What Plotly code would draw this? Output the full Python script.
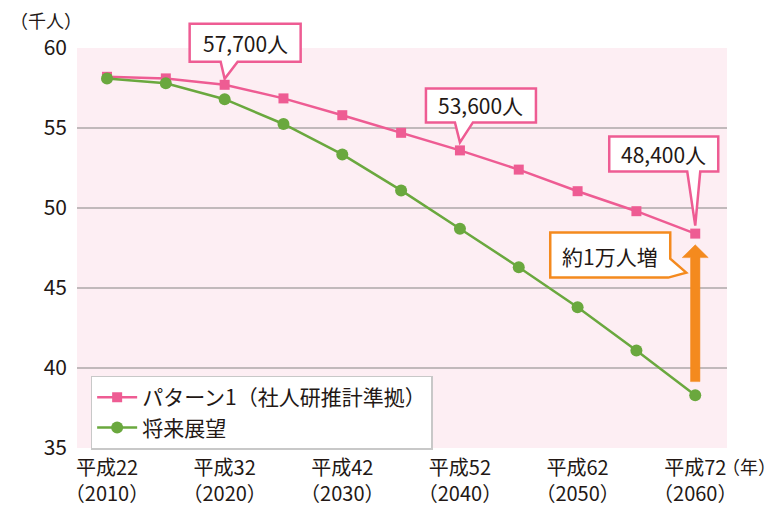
import plotly.graph_objects as go

years = [2010, 2015, 2020, 2025, 2030, 2035, 2040, 2045, 2050, 2055, 2060]
pattern1 = [58.2, 58.1, 57.7, 56.85, 55.8, 54.7, 53.6, 52.4, 51.05, 49.8, 48.4]
outlook = [58.1, 57.8, 56.8, 55.25, 53.35, 51.1, 48.7, 46.3, 43.8, 41.1, 38.3]

tick_years = [2010, 2020, 2030, 2040, 2050, 2060]
tick_labels = ["平成22<br>（2010）", "平成32<br>（2020）", "平成42<br>（2030）",
               "平成52<br>（2040）", "平成62<br>（2050）", "平成72<br>（2060）"]
y_ticks = [35, 40, 45, 50, 55, 60]
grid_values = [40, 45, 50, 55]
Y_MIN, Y_MAX = 35, 60

series_names = ["パターン1（社人研推計準拠）", "将来展望"]
callout_years = [2020, 2040, 2060]
callout_texts = ["57,700人", "53,600人", "48,400人"]
increase_text = "約1万人増"

FONT = "Noto Sans CJK JP, Noto Sans, sans-serif"
PINK = "#EE5C93"
GREEN = "#6AA83E"
ORANGE = "#F48A1E"
TEXT = "#231815"

fig = go.Figure()
fig.add_trace(go.Scatter(
    x=years, y=pattern1, mode="lines+markers", name=series_names[0],
    line=dict(color=PINK, width=2.5),
    marker=dict(symbol="square", size=10, color=PINK),
))
fig.add_trace(go.Scatter(
    x=years, y=outlook, mode="lines+markers", name=series_names[1],
    line=dict(color=GREEN, width=2.5),
    marker=dict(symbol="circle", size=12, color=GREEN),
))

shapes = []
for g in grid_values:
    shapes.append(dict(type="line", xref="paper", yref="y", x0=0, x1=1, y0=g, y1=g,
                       line=dict(color="#ACA7A9", width=1.5), layer="below"))


def frac(v):
    return (v - Y_MIN) / (Y_MAX - Y_MIN)


# callout bubbles (pixel geometry relative to the data point)
bubble_geo = [
    dict(bx0=-35, bx1=76, by0=23, by1=61, t0=-4, t1=13, tip=6),
    dict(bx0=-34, bx1=76, by0=28, by1=62, t0=-5, t1=13, tip=8),
    dict(bx0=-86, bx1=23, by0=62, by1=97, t0=-8, t1=5, tip=8),
]
annotations = []
for yr, txt, g in zip(callout_years, callout_texts, bubble_geo):
    val = pattern1[years.index(yr)]
    path = (f"M {g['bx0']},{g['by0']} L {g['t0']},{g['by0']} L 0,{g['tip']} "
            f"L {g['t1']},{g['by0']} L {g['bx1']},{g['by0']} L {g['bx1']},{g['by1']} "
            f"L {g['bx0']},{g['by1']} Z")
    shapes.append(dict(type="path", xref="x", yref="paper", xsizemode="pixel", ysizemode="pixel",
                       xanchor=yr, yanchor=frac(val), path=path, fillcolor="white",
                       line=dict(color=PINK, width=2.5), layer="above"))
    annotations.append(dict(x=yr, y=val, xref="x", yref="y", text=txt, showarrow=False,
                            xshift=(g['bx0'] + g['bx1']) / 2, yshift=(g['by0'] + g['by1']) / 2,
                            font=dict(family=FONT, size=21, color=TEXT)))

# increase arrow
last_p = pattern1[-1]
last_o = outlook[-1]
a_bot = last_o + 0.85
a_tip = last_p - 0.7
a_head = a_tip - 0.8
shapes.append(dict(type="path", xref="x", yref="y", xsizemode="pixel", ysizemode="scaled",
                   xanchor=years[-1],
                   path=(f"M -4.7,{a_bot} L 4.7,{a_bot} L 4.7,{a_head} L 13,{a_head} L 0,{a_tip} "
                         f"L -13,{a_head} L -4.7,{a_head} Z"),
                   fillcolor=ORANGE, line=dict(color=ORANGE, width=0.5), layer="above"))
# increase bubble
shapes.append(dict(type="path", xref="x", yref="y", xsizemode="pixel", ysizemode="pixel",
                   xanchor=years[-1], yanchor=last_p,
                   path="M -145,1 L -25,1 L -25,-25 L -9,-39 L -27,-44 L -145,-44 Z",
                   fillcolor="white", line=dict(color=ORANGE, width=2.5), layer="above"))
annotations.append(dict(x=years[-1], y=last_p, xref="x", yref="y", text=increase_text,
                        showarrow=False, xshift=-85, yshift=-22,
                        font=dict(family=FONT, size=21, color=TEXT)))

annotations.append(dict(x=-0.106, y=1.07, xref="paper", yref="paper", text="（千人）",
                        showarrow=False, xanchor="left", yanchor="middle",
                        font=dict(family=FONT, size=18, color=TEXT)))
annotations.append(dict(x=1.0785, y=-0.045, xref="paper", yref="paper", text="（年）",
                        showarrow=False, xanchor="right", yanchor="middle",
                        font=dict(family=FONT, size=18, color=TEXT)))

# The page body adds an 8px offset, so the figure is 8px smaller and margins shifted.
fig.update_layout(
    width=770, height=498,
    margin=dict(l=69, r=51, t=40, b=58, autoexpand=False),
    paper_bgcolor="white", plot_bgcolor="#FDEEF3",
    font=dict(family=FONT, size=21, color=TEXT),
    showlegend=True,
    legend=dict(x=0.021, y=0.181, xanchor="left", yanchor="top",
                bgcolor="white", bordercolor="#C8C8C8", borderwidth=1.5,
                font=dict(family=FONT, size=21, color=TEXT),
                tracegroupgap=0, itemwidth=40),
    shapes=shapes, annotations=annotations,
    xaxis=dict(range=[2007.45, 2062.7], tickvals=tick_years, ticktext=tick_labels,
               showgrid=False, zeroline=False, showline=False, ticks="", automargin=False,
               tickfont=dict(family=FONT, size=20, color=TEXT), ticklabelstandoff=6),
    yaxis=dict(range=[Y_MIN, Y_MAX], tickvals=y_ticks, showgrid=False, zeroline=False,
               showline=False, ticks="", ticklabelstandoff=9, automargin=False,
               tickfont=dict(family=FONT, size=21, color=TEXT)),
)

fig.write_html("out.html")
